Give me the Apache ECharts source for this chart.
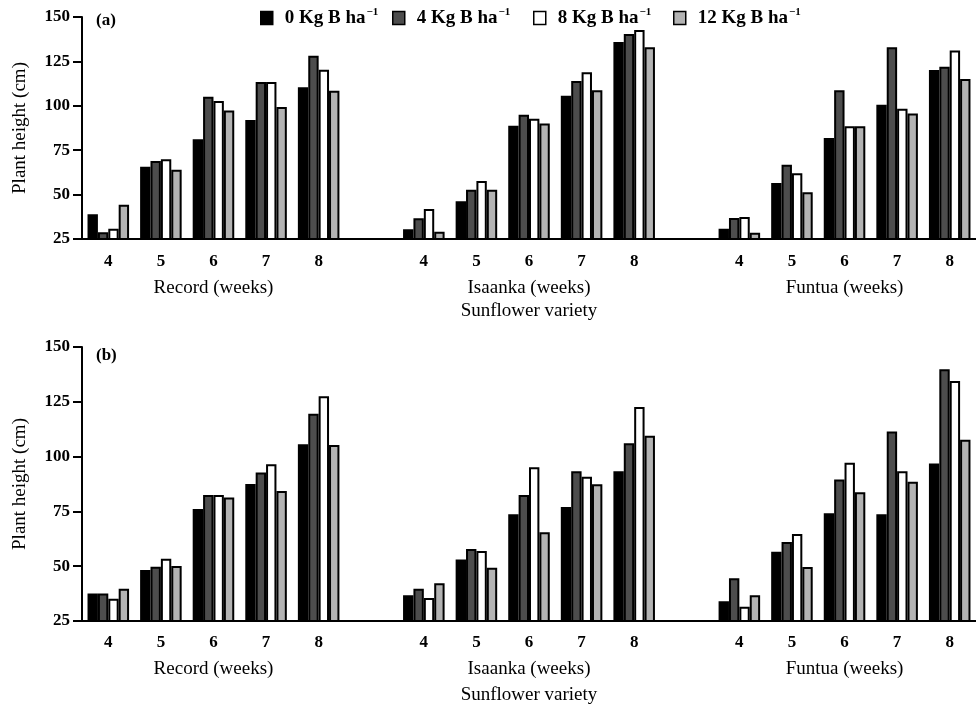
<!DOCTYPE html>
<html>
<head>
<meta charset="utf-8">
<script src="https://cdn.jsdelivr.net/npm/echarts@6/dist/echarts.min.js"></script>
<style>
  html, body { margin: 0; padding: 0; background: #fff; }
  #chart { width: 976px; height: 708px; }
</style>
</head>
<body>
<div id="chart"></div>
<script>
// categories
const weeks = ['4', '5', '6', '7', '8']
const varieties = ['Record', 'Isaanka', 'Funtua']
const doses = ['0', '4', '8', '12']
const yTicks = [25, 50, 75, 100, 125, 150]

// panel (a): Record wk4-8, Isaanka wk4-8, Funtua wk4-8
const a0kg = [38.9, 65.7, 81.1, 92.0, 110.4, 30.5, 46.2, 88.8, 105.7, 135.9, 30.8, 56.5, 81.9, 100.6, 120.2]
const a4kg = [28.8, 68.9, 105.1, 113.4, 128.2, 36.7, 52.8, 95.0, 114.0, 140.4, 36.8, 66.8, 108.7, 132.9, 122.0]
const a8kg = [30.8, 69.9, 102.7, 113.4, 120.3, 41.9, 57.7, 92.7, 118.9, 142.7, 37.4, 62.0, 88.5, 98.4, 131.2]
const a12kg = [44.3, 64.0, 97.3, 99.3, 108.5, 29.1, 52.8, 90.1, 108.7, 132.9, 28.5, 51.3, 88.5, 95.6, 115.1]

// panel (b)
const b0kg = [37.6, 48.3, 76.1, 87.5, 105.6, 36.7, 53.0, 73.7, 77.0, 93.3, 34.0, 56.6, 74.1, 73.7, 96.8]
const b4kg = [37.6, 49.8, 82.5, 92.7, 119.6, 39.7, 57.8, 82.5, 93.3, 106.1, 44.5, 61.0, 89.5, 111.5, 139.8]
const b8kg = [35.2, 53.4, 82.5, 96.5, 127.5, 35.5, 56.9, 95.1, 90.8, 122.6, 31.5, 64.7, 97.2, 93.3, 134.5]
const b12kg = [39.7, 50.1, 81.3, 84.3, 105.3, 42.2, 49.3, 65.5, 87.4, 109.5, 36.7, 49.6, 83.7, 88.5, 107.7]

const panels = [[a0kg, a4kg, a8kg, a12kg], [b0kg, b4kg, b8kg, b12kg]]
const doseColors = ['#000000', '#4d4d4d', '#ffffff', '#b3b3b3']

// 17 slots: 5 weeks per variety with an empty slot between varieties
const cats = []
const groupCats = []
varieties.forEach((v, i) => {
  weeks.forEach((w, j) => {
    cats.push(w)
    groupCats.push(j === 2 ? v + ' (weeks)' : '')
  })
  if (i < varieties.length - 1) {
    cats.push('')
    groupCats.push('')
  }
})

const withGaps = vals => {
  const out = []
  varieties.forEach((v, i) => {
    out.push(...vals.slice(i * weeks.length, (i + 1) * weeks.length))
    if (i < varieties.length - 1) out.push('-')
  })
  return out
}

const serif = 'Liberation Serif, Times New Roman, serif'
const doseNames = doses.map(d => d + ' Kg B ha-1')

// layout per panel
const grids = [
  { top: 17, height: 222, tickMargin: 14, groupMargin: 40, nameGap: 63 },
  { top: 347, height: 274, tickMargin: 13, groupMargin: 39, nameGap: 65 }
]

const chart = echarts.init(document.getElementById('chart'))

const xAxis = []
const yAxis = []
const series = []

grids.forEach((g, p) => {
  xAxis.push({
    gridIndex: p,
    type: 'category',
    data: cats,
    axisLine: { lineStyle: { color: '#000', width: 2 } },
    axisTick: { length: 7, interval: 0, lineStyle: { color: '#000', width: 2 } },
    axisLabel: { interval: 0, margin: g.tickMargin, color: '#000', fontFamily: serif, fontWeight: 'bold', fontSize: 17 }
  })
  xAxis.push({
    gridIndex: p,
    type: 'category',
    data: groupCats,
    position: 'bottom',
    axisLine: { show: false },
    axisTick: { show: false },
    axisLabel: { interval: 0, margin: g.groupMargin, color: '#000', fontFamily: serif, fontSize: 19 },
    name: 'Sunflower variety',
    nameLocation: 'middle',
    nameGap: g.nameGap,
    nameTextStyle: { color: '#000', fontFamily: serif, fontSize: 19 }
  })
  yAxis.push({
    gridIndex: p,
    type: 'value',
    min: yTicks[0],
    max: yTicks[yTicks.length - 1],
    interval: yTicks[1] - yTicks[0],
    axisLine: { show: true, lineStyle: { color: '#000', width: 2 } },
    axisTick: { show: true, length: 9, lineStyle: { color: '#000', width: 2 } },
    splitLine: { show: false },
    axisLabel: { margin: 12, color: '#000', fontFamily: serif, fontWeight: 'bold', fontSize: 17 },
    name: 'Plant height (cm)',
    nameLocation: 'middle',
    nameGap: 52,
    nameTextStyle: { color: '#000', fontFamily: serif, fontSize: 19 }
  })
  panels[p].forEach((vals, d) => {
    series.push({
      type: 'bar',
      name: doseNames[d],
      xAxisIndex: p * 2,
      yAxisIndex: p,
      data: withGaps(vals),
      barGap: '0%',
      barCategoryGap: '21%',
      itemStyle: { color: doseColors[d], borderColor: '#000', borderWidth: 2 }
    })
  })
})

const legendLeft = [260, 392, 533, 673]

chart.setOption({
  animation: false,
  backgroundColor: '#fff',
  title: [
    { text: '(a)', left: 91, top: 7, textStyle: { color: '#000', fontFamily: serif, fontWeight: 'bold', fontSize: 17 } },
    { text: '(b)', left: 91, top: 342, textStyle: { color: '#000', fontFamily: serif, fontWeight: 'bold', fontSize: 17 } }
  ],
  legend: doseNames.map((n, i) => ({
    data: [n],
    left: legendLeft[i],
    top: 7,
    padding: 0,
    icon: 'rect',
    itemWidth: 12,
    itemHeight: 13,
    itemStyle: { borderColor: '#000', borderWidth: 1.5 },
    selectedMode: false,
    formatter: name => '{t|' + name.replace(/-1$/, '') + '}{s|\u22121}',
    textStyle: {
      color: '#000',
      fontFamily: serif,
      fontWeight: 'bold',
      fontSize: 19,
      rich: {
        t: { fontFamily: serif, fontWeight: 'bold', fontSize: 19, padding: [0, 0, 0, 7], lineHeight: 22 },
        s: { fontFamily: serif, fontWeight: 'bold', fontSize: 11, verticalAlign: 'top', lineHeight: 11, padding: [0, 0, 0, 1] }
      }
    }
  })),
  grid: grids.map(g => ({ left: 82, top: g.top, width: 899, height: g.height })),
  xAxis,
  yAxis,
  series
})
</script>
</body>
</html>
